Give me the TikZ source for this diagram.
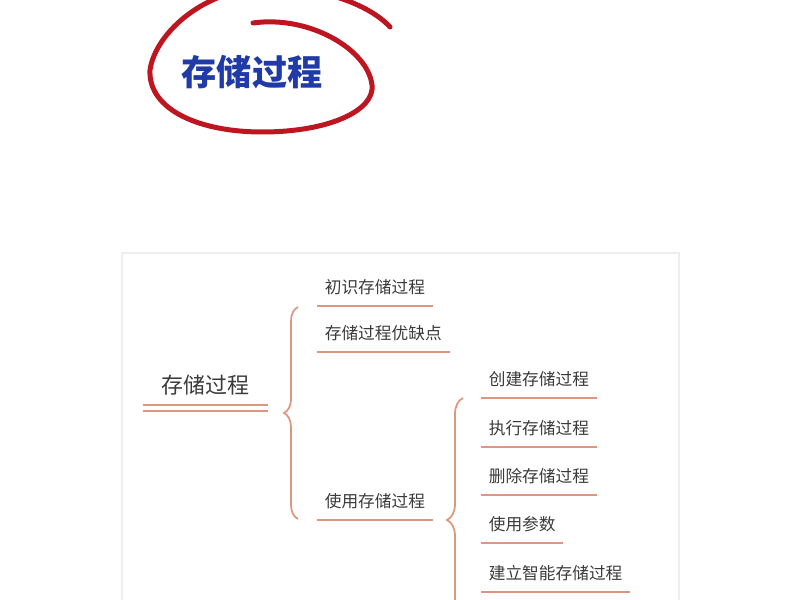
\documentclass[tikz,border=0pt]{standalone}
\usepackage{fontspec}
\setmainfont{Noto Sans CJK SC}
\usepackage{tikz}
\usetikzlibrary{calc}
\usetikzlibrary{decorations.pathreplacing}
\definecolor{circlered}{RGB}{190,22,32}
\definecolor{titleblue}{RGB}{32,58,168}
\definecolor{linesalmon}{RGB}{222,150,128}
\definecolor{textgray}{RGB}{58,58,58}
\definecolor{framegray}{RGB}{238,238,238}

\begin{document}
\begin{tikzpicture}[x=0.2mm, y=-0.2mm]
		\tikzset{item/.style={anchor=south west, inner xsep=1.5mm, inner ysep=7pt, text depth=0pt,
				font=\fontsize{9.5}{11}\selectfont, text=textgray}}
		\tikzset{rootitem/.style={item, inner xsep=3.6mm, inner ysep=6.5pt, font=\fontsize{12.5}{14}\selectfont}}
		\tikzset{title/.style={anchor=base, text=titleblue, font=\fontsize{20}{24}\selectfont\bfseries}}
		\tikzset{underline/.style={draw=linesalmon, line width=0.4mm}}
		\tikzset{curly/.style={draw=linesalmon, line width=0.35mm, decorate,
				decoration={brace, amplitude=#1}}}
		\useasboundingbox (0,0) rectangle (800,600);
					%frame
					\draw[framegray, line width=0.3mm] (122,253) rectangle (679,660);
					%title
					\draw[circlered, line width=1mm, line cap=round]
						(390,27) .. controls (370,5) and (320,-15) .. (260,-12)
						.. controls (200,-8) and (155,35) .. (150,70)
						.. controls (148,110) and (200,132) .. (262,132)
						.. controls (330,132) and (375,110) .. (372,85)
						.. controls (368,50) and (310,15) .. (253,23);
					\node[title] (title) at (252,86) {存储过程};
					%vertices
					\node[rootitem] (root) at (143,405) {存储过程};
					\node[item] (intro) at (317,306) {初识存储过程};
					\node[item] (pros) at (317,352) {存储过程优缺点};
					\node[item] (use) at (317,520) {使用存储过程};
					\node[item] (create) at (481,398) {创建存储过程};
					\node[item] (exec) at (481,447) {执行存储过程};
					\node[item] (drop) at (481,495) {删除存储过程};
					\node[item] (param) at (481,543) {使用参数};
					\node[item] (smart) at (481,592) {建立智能存储过程};
					\coordinate (b1t) at ($(intro.south west)+(-19,1)$);
					\coordinate (b1b) at ($(use.south west)+(-19,-1)$);
					\coordinate (b2t) at ($(create.south west)+(-18,0)$);
					\coordinate (b2b) at ($(b2t)+(0,244)$);
					%edges
					\draw[underline] (root.south west) -- (root.south east);
					\draw[underline] ($(root.south west)+(0,6)$) -- ($(root.south east)+(0,6)$);
					\foreach \n in {intro,pros,use,create,exec,drop,param,smart}
						\draw[underline] (\n.south west) -- (\n.south east);
					\draw[curly=2.8mm] (b1b) -- (b1t);
					\draw[curly=3.2mm] (b2b) -- (b2t);
					
\end{tikzpicture}
\end{document}
